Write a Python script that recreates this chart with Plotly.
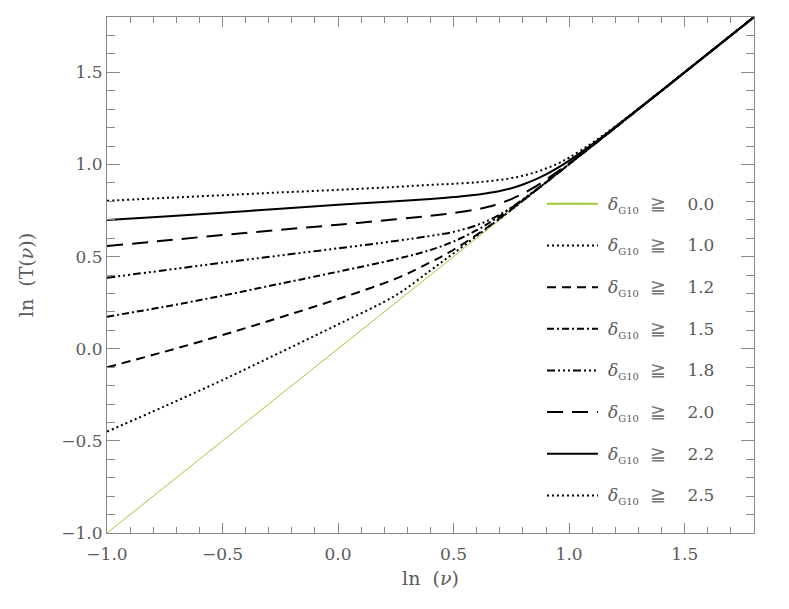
import plotly.graph_objects as go

# ln(nu) sample positions
LN_NU = [-1.0, -0.75, -0.5, -0.25, 0.0, 0.25, 0.4, 0.5, 0.6, 0.65, 0.7, 0.75,
         0.8, 0.85, 0.9, 0.95, 1.0, 1.1, 1.2, 1.4, 1.6, 1.8]

# ln(T(nu)) for each delta_G10 threshold
LN_T_10 = [-0.450, -0.312, -0.170, -0.020, 0.132, 0.290, 0.425, 0.518, 0.612, 0.660, 0.706, 0.754,
           0.803, 0.852, 0.901, 0.951, 1.001, 1.101, 1.200, 1.400, 1.600, 1.800]
LN_T_12 = [-0.101, -0.016, 0.074, 0.170, 0.270, 0.380, 0.469, 0.537, 0.618, 0.662, 0.709, 0.756,
           0.805, 0.853, 0.902, 0.951, 1.001, 1.101, 1.200, 1.400, 1.600, 1.800]
LN_T_15 = [0.174, 0.228, 0.288, 0.353, 0.418, 0.486, 0.536, 0.582, 0.643, 0.680, 0.720, 0.764,
           0.807, 0.855, 0.903, 0.952, 1.002, 1.101, 1.200, 1.400, 1.600, 1.800]
LN_T_18 = [0.385, 0.426, 0.467, 0.506, 0.545, 0.585, 0.612, 0.634, 0.670, 0.696, 0.728, 0.766,
           0.810, 0.857, 0.904, 0.953, 1.003, 1.101, 1.200, 1.400, 1.600, 1.800]
LN_T_20 = [0.557, 0.587, 0.617, 0.645, 0.673, 0.702, 0.721, 0.736, 0.756, 0.770, 0.789, 0.812,
           0.842, 0.877, 0.917, 0.961, 1.006, 1.102, 1.201, 1.400, 1.600, 1.800]
LN_T_22 = [0.698, 0.718, 0.738, 0.760, 0.781, 0.800, 0.813, 0.823, 0.835, 0.845, 0.856, 0.871,
           0.891, 0.916, 0.946, 0.981, 1.021, 1.109, 1.204, 1.400, 1.600, 1.800]
LN_T_25 = [0.803, 0.818, 0.833, 0.848, 0.862, 0.878, 0.889, 0.895, 0.903, 0.909, 0.916, 0.926,
           0.939, 0.956, 0.978, 1.004, 1.037, 1.117, 1.207, 1.401, 1.600, 1.800]

# delta_G10 >= 0.0 case: T = nu
LN_NU_00 = [-1.0, 1.0]
LN_T_00 = [-1.0, 1.0]

DELTA_LABELS = ["0.0", "1.0", "1.2", "1.5", "1.8", "2.0", "2.2", "2.5"]

GREEN = "#9acd32"
AXIS_GRAY = "#8a8a8a"
TEXT_GRAY = "#5a5a5a"
FONT = "DejaVu Serif"

# line styles (legend order)
styles = [
    dict(color=GREEN, width=2, dash="solid"),
    dict(color="black", width=2, dash="2px,3px"),
    dict(color="black", width=2, dash="9px,6px"),
    dict(color="black", width=2, dash="7px,3px,2px,3px"),
    dict(color="black", width=2, dash="8px,3px,2px,3px,2px,3px,2px,3px"),
    dict(color="black", width=2, dash="16px,9px"),
    dict(color="black", width=2, dash="solid"),
    dict(color="black", width=2, dash="2px,3px"),
]

fig = go.Figure()

fig.add_trace(go.Scatter(x=LN_NU_00, y=LN_T_00, mode="lines",
                         line=dict(color=GREEN, width=1), showlegend=False))

series = [LN_T_10, LN_T_12, LN_T_15, LN_T_18, LN_T_20, LN_T_22, LN_T_25]
for ys, st in zip(series, styles[1:]):
    fig.add_trace(go.Scatter(x=LN_NU, y=ys, mode="lines", line=st,
                             line_shape="spline", showlegend=False))

# page body has an 8px margin, so figure coords are screen coords minus 8
W, H = 789, 609
L_PX, R_PX, T_PX, B_PX = 99, 746, 9, 525.5


def px_x(p):
    # p given in screen px
    return (p - 8 - L_PX) / (R_PX - L_PX)


def px_y(p):
    return (B_PX - (p - 8)) / (B_PX - T_PX)


NB = "\u00a0"
row0, gap = 204, 41.7
for i, (lab, st) in enumerate(zip(DELTA_LABELS, styles)):
    yy = px_y(row0 + i * gap)
    fig.add_shape(type="line", xref="paper", yref="paper",
                  x0=px_x(547), x1=px_x(598), y0=yy, y1=yy, line=st)
    txt = ("<i>δ</i><sub><span style='font-size:10px'>G10</span></sub>" + NB * 2
           + "<span style='color:#777777;font-size:19px'>≧</span>" + NB * 4 + lab)
    fig.add_annotation(xref="paper", yref="paper", x=px_x(606), y=yy,
                       xanchor="left", yanchor="middle", showarrow=False,
                       text=txt, font=dict(family=FONT, size=17, color=TEXT_GRAY))

axis_common = dict(
    showline=True, linecolor=AXIS_GRAY, linewidth=1, mirror="allticks",
    ticks="inside", tickcolor=AXIS_GRAY, tickwidth=1, automargin=False,
    showgrid=False, zeroline=False, dtick=0.5, tick0=-1.0, tickformat=".1f",
    tickfont=dict(family=FONT, size=17, color=TEXT_GRAY),
)

fig.update_xaxes(range=[-1.0, 1.8], ticklen=10, ticklabelstandoff=6,
                 minor=dict(ticks="inside", dtick=0.1, ticklen=6, tickcolor=AXIS_GRAY, showgrid=False),
                 title=dict(text="ln  (<i>ν</i>)", standoff=8,
                            font=dict(family=FONT, size=19, color=TEXT_GRAY)),
                 **axis_common)
fig.update_yaxes(range=[-1.0, 1.8], ticklen=13,
                 minor=dict(ticks="inside", dtick=0.1, ticklen=8, tickcolor=AXIS_GRAY, showgrid=False),
                 title=dict(text="ln  (T(<i>ν</i>))", standoff=22,
                            font=dict(family=FONT, size=19, color=TEXT_GRAY)),
                 **axis_common)

fig.update_layout(
    width=W, height=H,
    margin=dict(l=L_PX, r=W - R_PX, t=T_PX, b=H - B_PX),
    paper_bgcolor="white", plot_bgcolor="white",
    showlegend=False,
)

fig.write_html("out.html")
